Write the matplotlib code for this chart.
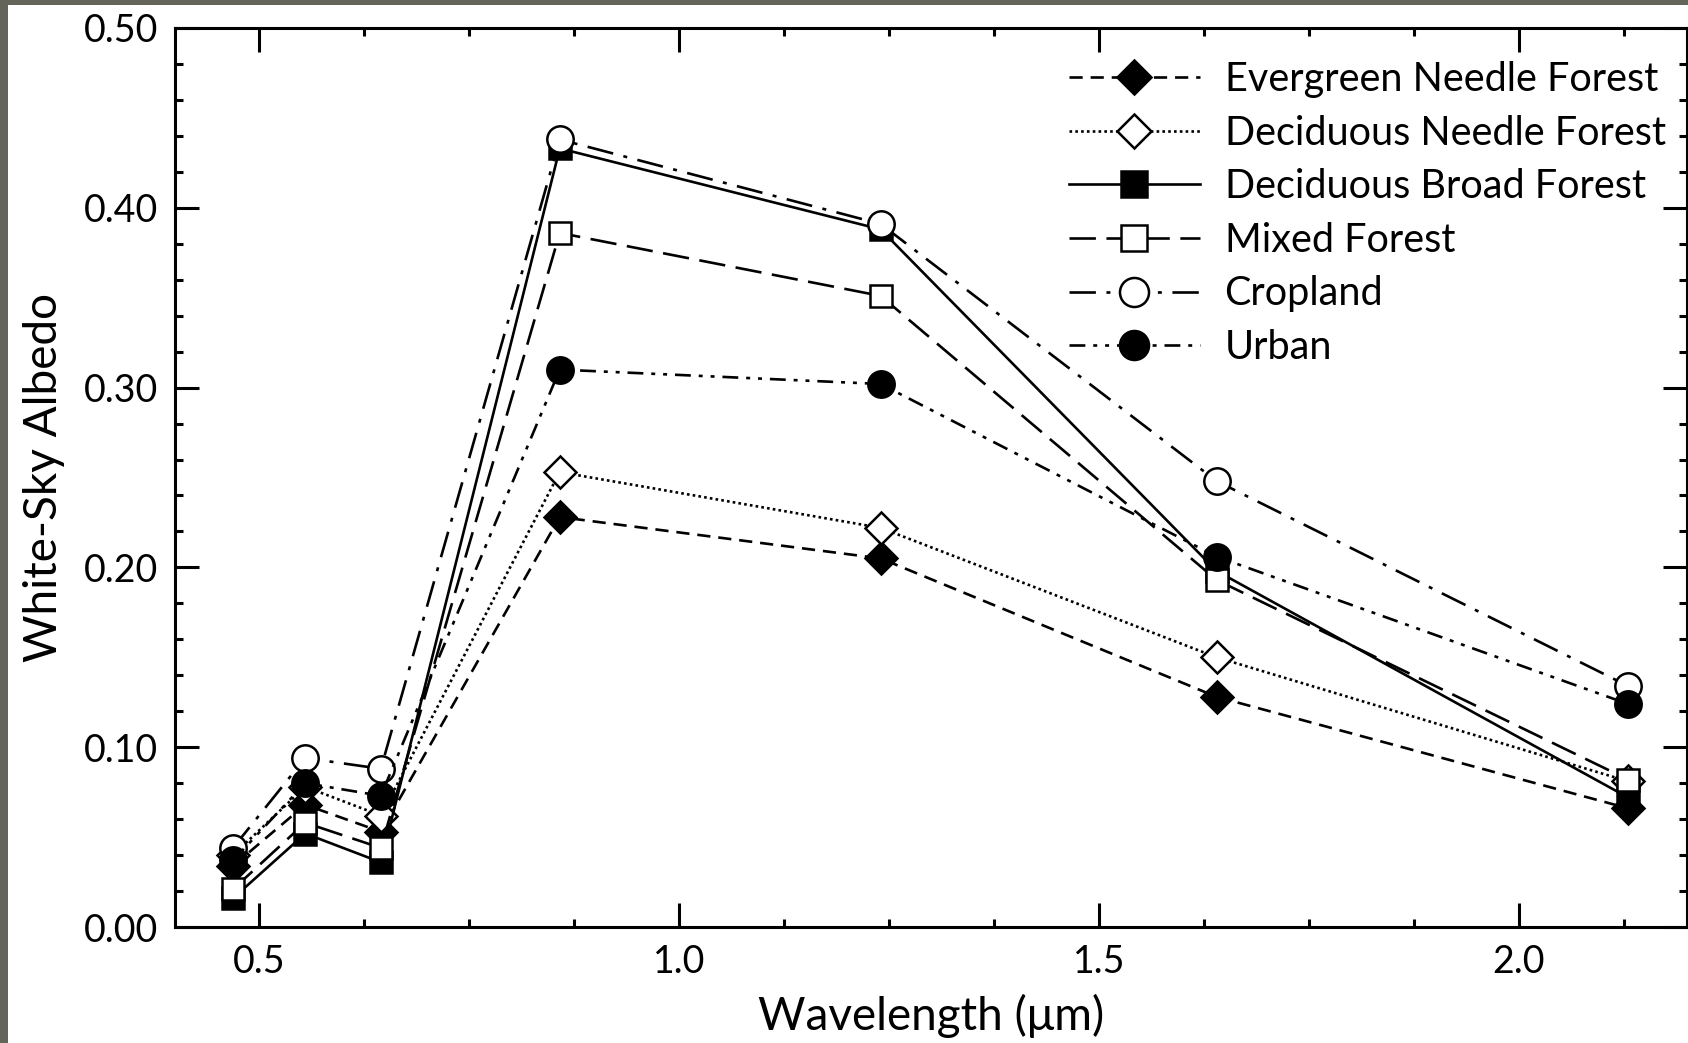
import matplotlib
matplotlib.use("Agg")
import matplotlib.pyplot as plt
from matplotlib.patches import Rectangle
from matplotlib.ticker import MultipleLocator

plt.rcParams['font.family'] = ['Lato', 'DejaVu Sans']

# MODIS band centres (um)
wavelength = [0.469, 0.555, 0.645, 0.858, 1.240, 1.640, 2.130]

evergreen_needle = [0.034, 0.068, 0.053, 0.228, 0.205, 0.128, 0.066]
deciduous_needle = [0.040, 0.078, 0.062, 0.253, 0.222, 0.150, 0.081]
deciduous_broad = [0.016, 0.052, 0.036, 0.433, 0.388, 0.198, 0.072]
mixed_forest = [0.021, 0.058, 0.044, 0.386, 0.351, 0.193, 0.082]
cropland = [0.044, 0.094, 0.088, 0.438, 0.391, 0.248, 0.134]
urban = [0.037, 0.080, 0.073, 0.310, 0.302, 0.206, 0.124]

series = [
    ("Evergreen Needle Forest", evergreen_needle, "D", "black", (0, (5, 3)), 16),
    ("Deciduous Needle Forest", deciduous_needle, "D", "white", (0, (1, 1.2)), 16),
    ("Deciduous Broad Forest", deciduous_broad, "s", "black", "-", 16.5),
    ("Mixed Forest", mixed_forest, "s", "white", (0, (10, 4)), 16.5),
    ("Cropland", cropland, "o", "white", (0, (10, 4, 1.5, 4)), 19),
    ("Urban", urban, "o", "black", (0, (6, 3, 1.5, 3, 1.5, 3)), 19),
]

fig = plt.figure(figsize=(16.88, 10.43), dpi=100, facecolor="#64645a")
# white page, with the grey strip left and top
fig.patches.append(Rectangle((8 / 1688, 0), 1, 1 - 5 / 1043,
                             transform=fig.transFigure, facecolor="white",
                             edgecolor="none", zorder=-10))
ax = fig.add_axes([0.1037, 0.1112, 0.8957, 0.862])

for label, vals, marker, fill, ls, ms in series:
    ax.plot(wavelength, vals, color="black", linestyle=ls, linewidth=1.9,
            marker=marker, markersize=ms, markerfacecolor=fill,
            markeredgecolor="black", markeredgewidth=1.8, label=label)

ax.set_xlim(0.4, 2.2)
ax.set_ylim(0.0, 0.5)
ax.xaxis.set_major_locator(MultipleLocator(0.5))
ax.xaxis.set_minor_locator(MultipleLocator(0.125))
ax.yaxis.set_major_locator(MultipleLocator(0.1))
ax.yaxis.set_minor_locator(MultipleLocator(0.02))
ax.xaxis.set_major_formatter(plt.FormatStrFormatter("%.1f"))
ax.yaxis.set_major_formatter(plt.FormatStrFormatter("%.2f"))

ax.tick_params(which="both", direction="in", top=True, right=True,
               width=2.2, labelsize=27)
ax.tick_params(which="major", length=17, pad=12)
ax.tick_params(which="minor", length=6)
for sp in ax.spines.values():
    sp.set_linewidth(2.2)

ax.set_xlabel("Wavelength (\u03bcm)", fontsize=33, labelpad=10)
ax.set_ylabel("White-Sky Albedo", fontsize=33, labelpad=14)

leg = ax.legend(loc="upper left", bbox_to_anchor=(1069 / 1688, 1 - 61 / 1043),
                bbox_transform=fig.transFigure, frameon=False, fontsize=28.5,
                numpoints=1, handlelength=3.3, handletextpad=0.63,
                labelspacing=0.42, borderpad=0, borderaxespad=0,
                markerscale=1.1)

fig.savefig("out.png", dpi=100, facecolor=fig.get_facecolor())
